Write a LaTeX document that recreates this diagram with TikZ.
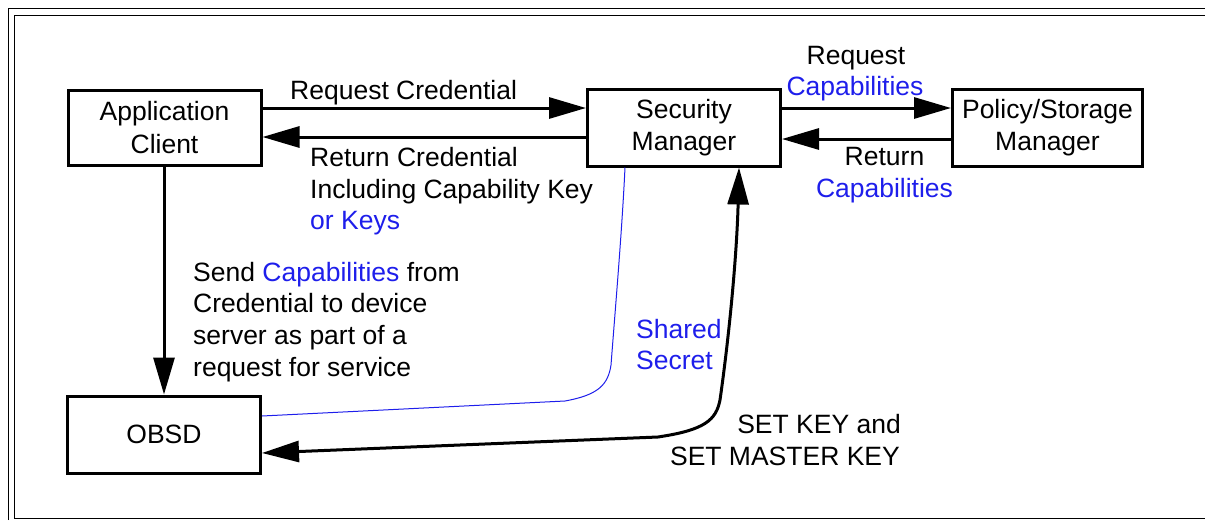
\documentclass[tikz,border=0pt]{standalone}
\usepackage{fontspec}
\setmainfont{Liberation Sans}
\usetikzlibrary{arrows.meta}
\definecolor{lblue}{RGB}{30,30,235}
\tikzset{
  boxnode/.style={draw, line width=3pt, align=center, inner sep=0pt, font=\fontsize{26.5}{32.5}\selectfont},
  lbl/.style={inner sep=0pt, font=\fontsize{26.5}{32}\selectfont},
  conn/.style={line width=3pt, -{Triangle[length=37pt,width=21pt]}},
  frameline/.style={line width=1.6pt},
}
\begin{document}
\begin{tikzpicture}[x=1pt,y=-1pt]
\useasboundingbox (0,0) rectangle (1205,520);
% frame
\draw[frameline] (8.5,520) -- (8.5,8.5) -- (1205,8.5);
\draw[frameline] (1205,15.5) -- (14.5,15.5) -- (14.5,518.5) -- (1205,518.5);
% boxes
\node[boxnode, minimum width=193pt, minimum height=75pt] (app) at (164.5,127.5) {Application\\Client};
\node[boxnode, minimum width=193pt, minimum height=77pt] (sm) at (684,127.5) {Security\\Manager};
\node[boxnode, minimum width=190pt, minimum height=77pt] (psm) at (1047.5,127.5) {Policy/Storage\\Manager};
\node[boxnode, minimum width=193pt, minimum height=77pt] (obsd) at (164,434.5) {OBSD};
% helper coordinates
\coordinate (y108) at (0,108);
\coordinate (y137) at (0,137);
\coordinate (y139) at (0,139);
\coordinate (y416) at (0,416);
\coordinate (y453) at (0,453);
\coordinate (x164) at (164,0);
\coordinate (x625) at (625,0);
\coordinate (x739) at (739,0);
% connectors
\draw[conn] (app.east |- y108) -- (sm.west |- y108);
\draw[conn] (sm.west |- y137) -- (app.east |- y137);
\draw[conn] (sm.east |- y108) -- (psm.west |- y108);
\draw[conn] (psm.west |- y139) -- (sm.east |- y139);
\draw[conn] (app.south -| x164) -- (obsd.north -| x164);
\draw[lblue, line width=1pt] (obsd.east |- y416) -- (565,401)
  .. controls (598,395) and (608,385) .. (611,365)
  .. controls (616,300) and (622,230) .. (sm.south -| x625);
\draw[line width=3pt, {Triangle[length=37pt,width=21pt]}-{Triangle[length=37pt,width=21pt]}]
  (obsd.east |- y453) -- (658,437)
  .. controls (705,430) and (716,420) .. (720,400)
  .. controls (730,330) and (737,250) .. (sm.south -| x739);
% labels
\node[lbl, anchor=base west] (rq1) at (290,99) {Request Credential};
\node[lbl, anchor=base west] (rc1) at (310,166) {Return Credential};
\node[lbl, anchor=base west] (rc2) at (310,198) {Including Capability Key};
\node[lbl, anchor=base west, text=lblue] (rc3) at (310,229) {or Keys};
\node[lbl, anchor=base] (rqc1) at (856,64) {Request};
\node[lbl, anchor=base, text=lblue] (rqc2) at (855,95) {Capabilities};
\node[lbl, anchor=base] (rtc1) at (884.5,165) {Return};
\node[lbl, anchor=base, text=lblue] (rtc2) at (884.5,197) {Capabilities};
\node[lbl, anchor=base west] (sd1) at (193,281) {Send \textcolor{lblue}{Capabilities} from};
\node[lbl, anchor=base west] (sd2) at (193,312) {Credential to device};
\node[lbl, anchor=base west] (sd3) at (193,344) {server as part of a};
\node[lbl, anchor=base west] (sd4) at (193,376) {request for service};
\node[lbl, anchor=base west, text=lblue] (ss1) at (636,338) {Shared};
\node[lbl, anchor=base west, text=lblue] (ss2) at (636,369) {Secret};
\node[lbl, anchor=base east] (sk1) at (901,433) {SET KEY and};
\node[lbl, anchor=base east] (sk2) at (900,465) {SET MASTER KEY};
\end{tikzpicture}
\end{document}
